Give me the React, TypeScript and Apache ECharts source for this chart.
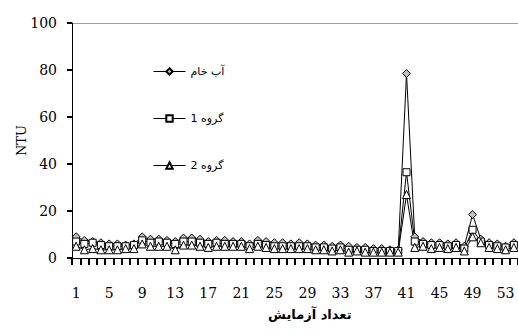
import React, { useEffect, useRef } from "react";
import * as echarts from "echarts";

const categories: string[] = Array.from({ length: 54 }, (_, i) => String(i + 1));

const rawWater: number[] = [
  9, 7.5, 7, 6.5, 6, 6, 5.5, 6, 9, 8, 8, 7.5, 7, 8.5, 8.5, 8, 7, 7.5, 7.5, 7, 7, 6, 7.5, 7, 6.5, 6.5,
  6, 6.5, 6, 5.5, 5.5, 5, 5.5, 5, 4.5, 4.5, 4, 4, 3.5, 3.5, 78.5, 9, 7, 6.5, 6.5, 6, 6.5, 5, 18.5, 8,
  6.5, 6, 5, 6.5,
];
const group1: number[] = [
  7, 6, 6.5, 5.5, 5, 5, 5, 5.5, 7.5, 6.5, 7, 6.5, 6, 7, 7, 6.5, 6, 6.5, 6, 6, 6, 5, 6, 5.5, 5, 5, 5, 5,
  5, 4.5, 4.5, 4, 4.5, 3.5, 3.5, 3.5, 3, 3, 3, 3, 36.5, 7, 6, 5.5, 5.5, 5, 5.5, 4, 12, 7, 5.5, 5, 4.5,
  5.5,
];
const group2: number[] = [
  5, 3.5, 4, 3.5, 3.5, 3.5, 4, 4, 6, 5, 5, 5, 3.5, 5.5, 5.5, 5, 4.5, 5, 5, 5, 5, 4, 5, 4.5, 4, 4, 4, 4,
  4, 3.5, 3.5, 3, 3.5, 2.5, 3, 2.5, 2.5, 2.5, 2.5, 2.5, 27, 4.5, 5, 4, 4.5, 4, 4.5, 3, 9, 6.5, 4.5, 4,
  3.5, 4.5,
];

const seriesNames: string[] = ["آب خام", "گروه 1", "گروه 2"];
const xTitle = "تعداد آزمایش";
const yTitle = "NTU";

export default function App() {
  const ref = useRef<HTMLDivElement>(null);
  useEffect(() => {
    if (!ref.current) return;
    const chart = echarts.init(ref.current, undefined, { renderer: "svg" });
    const serif = "DejaVu Serif";
    const mk = (name: string, data: number[], symbol: string, fill: string, size: number) => ({
      name,
      type: "line",
      data,
      symbol,
      symbolSize: size,
      showSymbol: true,
      showAllSymbol: true,
      lineStyle: { color: "#000", width: 1 },
      itemStyle: { color: fill, borderColor: "#000", borderWidth: 1 },
      emphasis: { disabled: true },
    });
    chart.setOption({
      animation: false,
      grid: { left: 72, right: 0, top: 23, bottom: 77 },
      legend: {
        orient: "vertical",
        left: 153,
        top: 66,
        padding: 0,
        itemWidth: 32,
        itemHeight: 8,
        itemGap: 36,
        lineStyle: { width: 1, color: "#000" },
        textStyle: { fontFamily: "DejaVu Sans", fontSize: 11, color: "#000" },
        data: seriesNames,
      },
      xAxis: {
        type: "category",
        data: categories,
        axisLine: { show: true, lineStyle: { color: "#000", width: 1 } },
        axisTick: { show: true, interval: 0, length: 7, lineStyle: { color: "#000", width: 2 } },
        axisLabel: {
          interval: 3,
          margin: 28,
          fontFamily: serif,
          fontSize: 14,
          color: "#000",
        },
      },
      yAxis: {
        type: "value",
        min: 0,
        max: 100,
        interval: 20,
        name: yTitle,
        nameLocation: "middle",
        nameGap: 44,
        nameMoveOverlap: false,
        nameTextStyle: { fontFamily: serif, fontSize: 13, color: "#000" },
        axisLine: { show: true, lineStyle: { color: "#000", width: 1 } },
        axisTick: { show: true, length: 5, lineStyle: { color: "#000", width: 2 } },
        axisLabel: { margin: 15, fontFamily: serif, fontSize: 14, color: "#000" },
        splitLine: {
          show: true,
          lineStyle: {
            color: ["rgba(0,0,0,0)", "rgba(0,0,0,0)", "rgba(0,0,0,0)", "rgba(0,0,0,0)", "rgba(0,0,0,0)", "#a0a0a0"],
            width: 1,
          },
        },
      },
      graphic: [
        {
          type: "text",
          left: 268,
          top: 308,
          style: {
            text: xTitle,
            fontFamily: "DejaVu Sans",
            fontWeight: "bold",
            fontSize: 13,
            fill: "#000",
          },
        },
      ],
      series: [
        mk(seriesNames[0], rawWater, "diamond", "#c0c0c0", 8),
        mk(seriesNames[1], group1, "rect", "#fff", 7),
        mk(seriesNames[2], group2, "triangle", "#fff", 8),
      ],
    });
    return () => chart.dispose();
  }, []);
  return (
    <div
      ref={ref}
      style={{ position: "absolute", left: 0, top: 0, width: 518, height: 335 }}
    />
  );
}
